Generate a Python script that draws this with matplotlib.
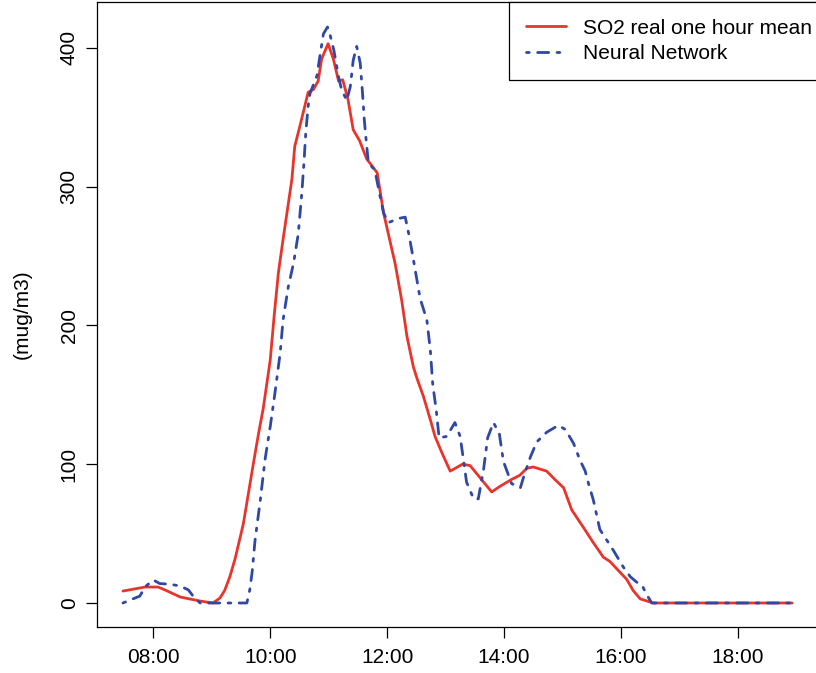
#!/usr/bin/env python3
# coding: utf-8

import numpy as np
from matplotlib import pyplot as plt
from matplotlib.ticker import FuncFormatter

plt.rcParams['font.family'] = ['Liberation Sans', 'DejaVu Sans']

# time of day in hours, SO2 in mug/m3
real_hours = [7.48, 7.86, 8.08, 8.20, 8.46, 8.80, 9.02, 9.14, 9.22, 9.31, 9.40, 9.54,
              9.71, 9.80, 9.88, 10.00, 10.07, 10.14, 10.22, 10.37, 10.42, 10.51, 10.65,
              10.74, 10.82, 10.88, 10.99, 11.08, 11.17, 11.24, 11.33, 11.42, 11.53,
              11.65, 11.83, 11.94, 12.14, 12.25, 12.34, 12.45, 12.51, 12.62, 12.74,
              12.82, 12.94, 13.08, 13.29, 13.42, 13.79, 13.93, 14.13, 14.27, 14.39,
              14.50, 14.73, 14.87, 15.02, 15.16, 15.35, 15.52, 15.70, 15.81, 16.10,
              16.21, 16.33, 16.55, 17.00, 18.00, 18.93]
real_so2 = [8.6, 11.5, 11.5, 9.4, 4.3, 1.4, 0, 3.6, 9, 19, 32, 57,
            100, 122, 140, 175, 208, 238, 262, 305, 329, 344, 368,
            370, 376, 392, 403, 392, 376, 377, 363, 341, 333,
            320, 310, 281, 244, 218, 192, 170, 162, 149, 132,
            120, 108, 95, 100, 99, 80, 84, 89, 92, 97,
            98, 95, 89, 83, 67, 55, 44, 33, 30, 17,
            9, 3, 0, 0, 0, 0]

nn_hours = [7.48, 7.77, 7.86, 8.00, 8.11, 8.29, 8.46, 8.60, 8.68, 8.80, 9.60, 9.65,
            9.69, 9.74, 9.83, 9.91, 10.00, 10.08, 10.17, 10.22, 10.31, 10.40, 10.48,
            10.54, 10.58, 10.61, 10.65, 10.68, 10.80, 10.85, 10.91, 10.98, 11.02,
            11.09, 11.17, 11.22, 11.31, 11.37, 11.42, 11.48, 11.54, 11.58, 11.61,
            11.64, 11.68, 11.79, 11.87, 11.94, 12.02, 12.19, 12.31, 12.38, 12.46,
            12.55, 12.59, 12.68, 12.74, 12.78, 12.84, 12.89, 13.02, 13.16, 13.25,
            13.29, 13.36, 13.48, 13.56, 13.65, 13.72, 13.82, 13.92, 13.99, 14.13,
            14.28, 14.33, 14.45, 14.56, 14.73, 14.93, 15.05, 15.19, 15.30, 15.39,
            15.44, 15.53, 15.64, 15.87, 16.04, 16.16, 16.27, 16.36, 16.44, 16.53,
            17.00, 18.00, 18.93]
nn_so2 = [0, 5, 11.7, 16.6, 14, 13.5, 12.2, 9.4, 5, 0, 0, 9.4,
          22, 45, 74, 103, 127, 151, 180, 204, 228, 245, 266,
          295, 319, 340, 358, 367, 380, 394, 410, 415, 410,
          398, 379, 370, 362, 372, 391, 401, 389, 367, 348,
          334, 317, 312, 295, 281, 274, 277, 278, 264, 245,
          223, 216, 204, 182, 158, 139, 119, 120, 130, 120,
          108, 87, 75, 75, 96, 119, 130, 122, 102, 86,
          83, 90, 105, 116, 123, 128, 125, 115, 103, 95,
          87, 74, 53, 38, 26, 19, 15, 13, 6, 0,
          0, 0, 0]

x_ticks = [8, 10, 12, 14, 16, 18]
y_ticks = [0, 100, 200, 300, 400]

fig = plt.figure(figsize=(8.16, 6.73), dpi=100)
# the right side of the plot box runs past the picture edge, as in the original
ax = fig.add_axes([96.7 / 816, 46 / 673, 722.3 / 816, 625 / 673])

ax.plot(real_hours, real_so2, color='#e8352b', lw=2.0, label='SO2 real one hour mean',
        solid_capstyle='round', solid_joinstyle='round')
ax.plot(nn_hours, nn_so2, color='#2f48a6', lw=2.0, linestyle=(0, (1, 3, 4, 3)),
        dash_capstyle='round', label='Neural Network')

ax.set_xlim(7.031, 19.39)
ax.set_ylim(-17.3, 433)
ax.set_xticks(x_ticks)
ax.set_yticks(y_ticks)


def hhmm(x, pos):
    h = int(x)
    m = int(round((x - h) * 60))
    return '{:02d}:{:02d}'.format(h, m)


ax.xaxis.set_major_formatter(FuncFormatter(hhmm))
ax.tick_params(direction='out', length=8, width=0.9, labelsize=15, pad=7)
ax.tick_params(axis='y', pad=5)
for lab in ax.get_yticklabels():
    lab.set_rotation(90)
    lab.set_va('center')
for s in ax.spines.values():
    s.set_linewidth(0.9)

ax.set_ylabel('(mug/m3)', fontsize=15, labelpad=20)

leg = ax.legend(loc='upper right', bbox_to_anchor=(1 + 10 / 722.3, 1.0),
                borderaxespad=0, fancybox=False, edgecolor='black',
                framealpha=1, fontsize=15, handlelength=1.9, handletextpad=0.85,
                borderpad=0.8, labelspacing=0.3)
leg.get_frame().set_linewidth(0.9)

plt.savefig('out.png', dpi=100)
